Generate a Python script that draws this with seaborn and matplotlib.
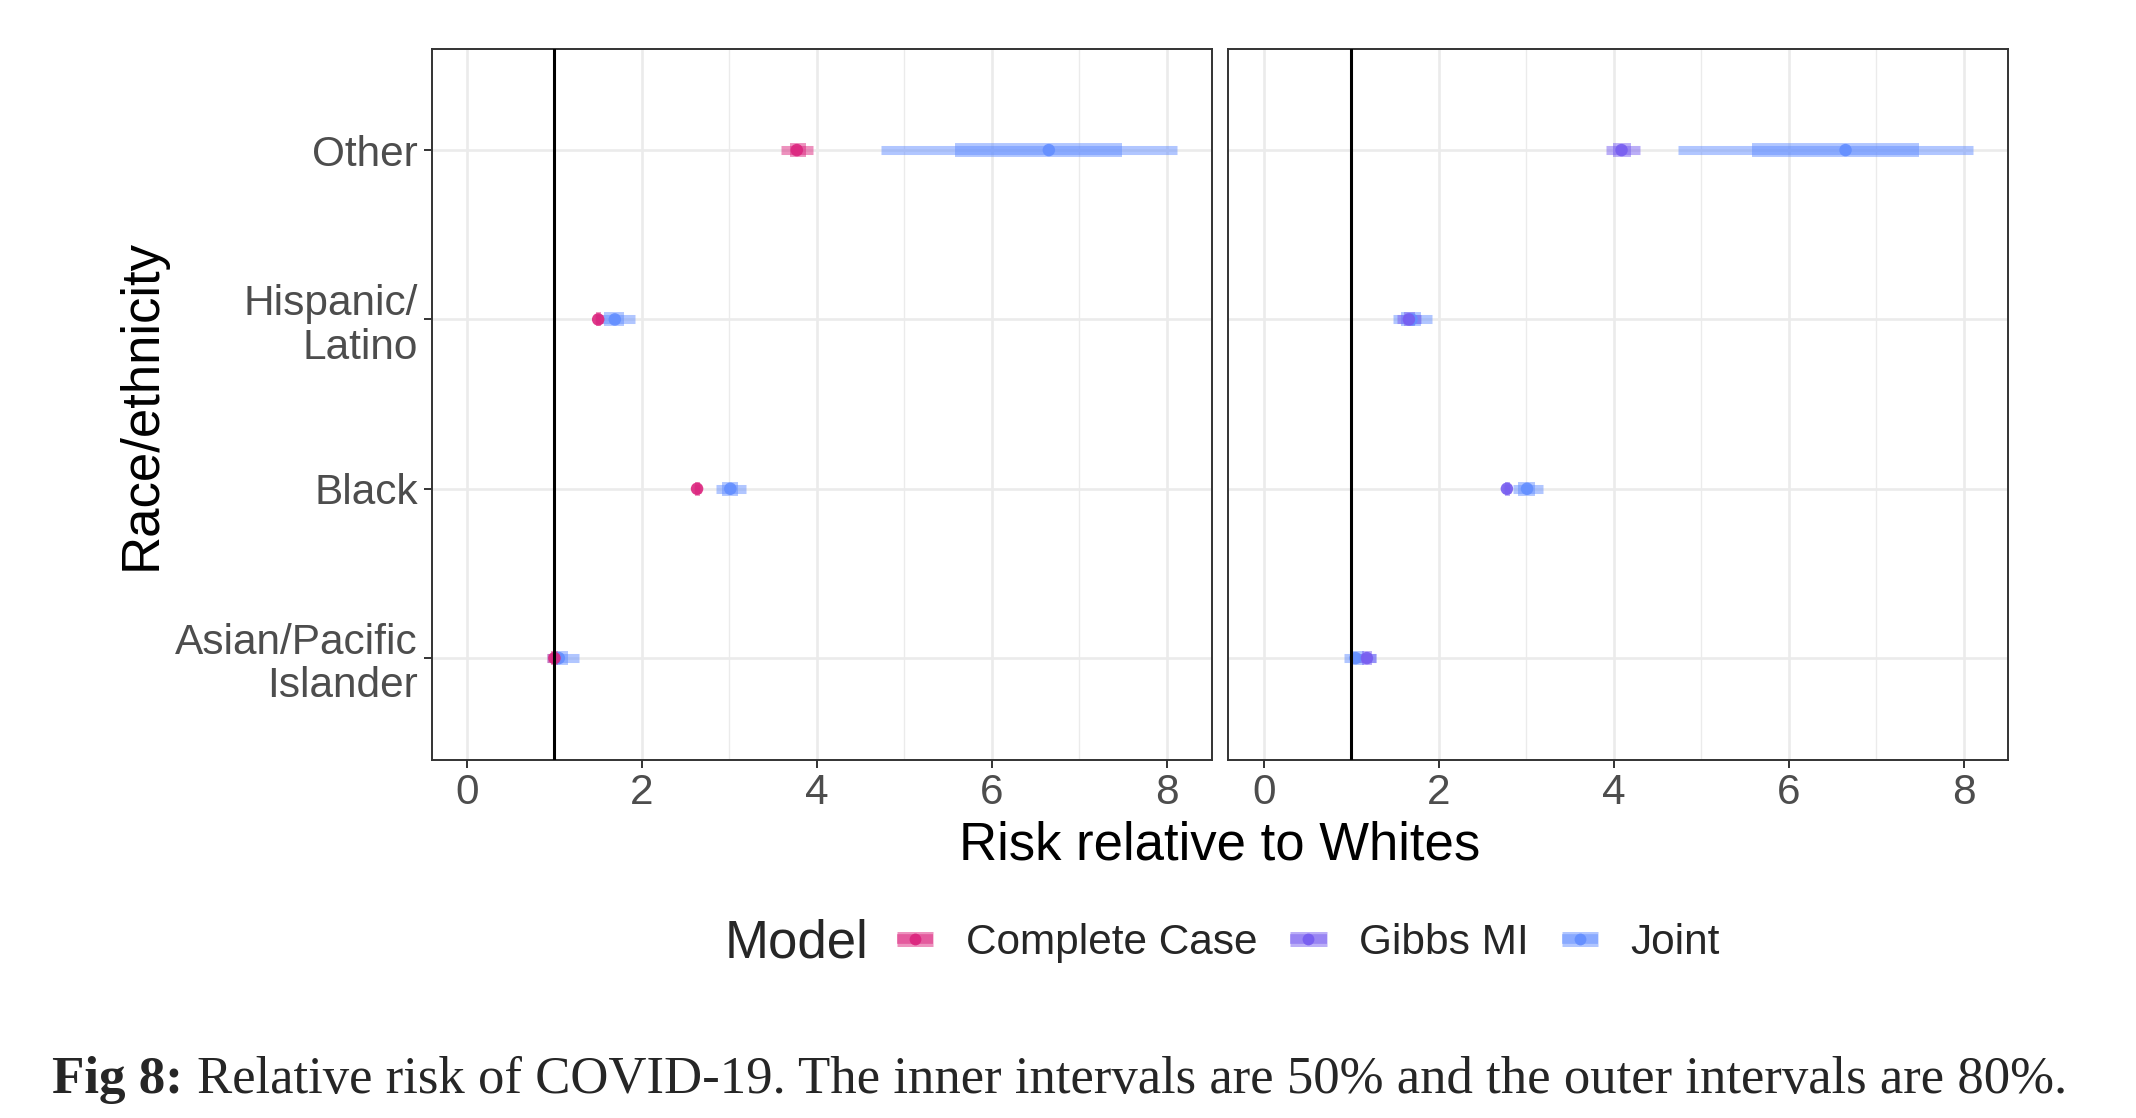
import matplotlib
matplotlib.use("Agg")
import matplotlib.pyplot as plt
from matplotlib.lines import Line2D
from matplotlib.ticker import MultipleLocator
import pandas as pd
import seaborn as sns

# values (relative risk, posterior median + 50% / 80% intervals)
categories = ["Other", "Hispanic/\nLatino", "Black", "Asian/Pacific\nIslander"]
models = ["Complete Case", "Gibbs MI", "Joint"]
palette = {"Complete Case": "#DC267F", "Gibbs MI": "#785EF0", "Joint": "#648FFF"}

cc_mid = [3.77, 1.50, 2.63, 1.00]
cc_lo50 = [3.69, 1.48, 2.61, 0.96]
cc_hi50 = [3.87, 1.53, 2.66, 1.04]
cc_lo80 = [3.59, 1.46, 2.59, 0.92]
cc_hi80 = [3.95, 1.55, 2.68, 1.08]

gibbs_mid = [4.09, 1.66, 2.78, 1.18]
gibbs_lo50 = [3.99, 1.60, 2.76, 1.12]
gibbs_hi50 = [4.20, 1.73, 2.81, 1.24]
gibbs_lo80 = [3.91, 1.52, 2.74, 1.08]
gibbs_hi80 = [4.30, 1.80, 2.83, 1.28]

joint_mid = [6.65, 1.69, 3.01, 1.05]
joint_lo50 = [5.58, 1.57, 2.91, 0.99]
joint_hi50 = [7.49, 1.80, 3.10, 1.15]
joint_lo80 = [4.73, 1.48, 2.85, 0.92]
joint_hi80 = [8.11, 1.92, 3.19, 1.28]


def model_frame(name, mid, lo50, hi50, lo80, hi80):
    return pd.DataFrame({
        "race": categories, "model": name, "mid": mid,
        "lo50": lo50, "hi50": hi50, "lo80": lo80, "hi80": hi80,
    })


cc = model_frame("Complete Case", cc_mid, cc_lo50, cc_hi50, cc_lo80, cc_hi80)
gibbs = model_frame("Gibbs MI", gibbs_mid, gibbs_lo50, gibbs_hi50, gibbs_lo80, gibbs_hi80)
joint = model_frame("Joint", joint_mid, joint_lo50, joint_hi50, joint_lo80, joint_hi80)

sns.set_theme(style="whitegrid")
plt.rcParams["font.family"] = ["Liberation Sans", "DejaVu Sans"]

W, H = 2136, 1118
fig = plt.figure(figsize=(W / 100, H / 100), dpi=100)
fig.patch.set_facecolor("white")

panel_w = 780.1 / W
panel_h = 711.2 / H
panel_b = 1 - 759.7 / H
ax1 = fig.add_axes([431.5 / W, panel_b, panel_w, panel_h])
ax2 = fig.add_axes([1228.2 / W, panel_b, panel_w, panel_h])

cat_pos = {c: i for i, c in enumerate(categories)}

for ax, df in [(ax1, pd.concat([joint, cc])), (ax2, pd.concat([joint, gibbs]))]:
    df = df.reset_index(drop=True)
    ypos = df["race"].map(cat_pos)
    for m in df["model"].unique():
        sel = df["model"] == m
        ax.hlines(ypos[sel], df.loc[sel, "lo80"], df.loc[sel, "hi80"],
                  color=palette[m], lw=6.5, alpha=0.5, zorder=2)
        ax.hlines(ypos[sel], df.loc[sel, "lo50"], df.loc[sel, "hi50"],
                  color=palette[m], lw=10, alpha=0.5, zorder=2)
    sns.stripplot(data=df, x="mid", y="race", hue="model", order=categories,
                  palette=palette, jitter=False, dodge=False, size=9,
                  linewidth=0, alpha=0.9, legend=False, zorder=3, ax=ax)
    ax.axvline(1, color="black", lw=2.2, zorder=4)

    ax.set_xlim(-0.405, 8.51)
    ax.set_ylim(3.6, -0.6)
    ax.set_xticks([0, 2, 4, 6, 8])
    ax.xaxis.set_minor_locator(MultipleLocator(1))
    ax.set_axisbelow(True)
    ax.grid(True, which="major", color="#EBEBEB", lw=1.9)
    ax.grid(True, which="minor", axis="x", color="#EBEBEB", lw=1.0)
    ax.set_xlabel("")
    ax.set_ylabel("")
    ax.set_facecolor("white")
    for s in ax.spines.values():
        s.set_visible(True)
        s.set_color("#333333")
        s.set_linewidth(1.4)
    ax.tick_params(axis="both", which="major", bottom=True, left=True,
                   length=5.8, width=1.4, color="#333333",
                   labelsize=30.5, labelcolor="#4D4D4D", pad=4)
    ax.tick_params(axis="x", which="minor", length=0)

for lab in ax1.get_yticklabels():
    lab.set_linespacing(1.12)
ax2.tick_params(axis="y", left=False, labelleft=False)

fig.text(1220 / W, 1 - 860 / H, "Risk relative to Whites", ha="center",
         va="baseline", fontsize=38, color="black")
fig.text(141.5 / W, 1 - 405 / H, "Race/ethnicity", rotation=90, ha="center",
         va="center", fontsize=38, color="black")

# legend: model title on the left, keys as interval + point
handles = []
for m in models:
    c = palette[m]
    handles.append((
        Line2D([], [], color=c, lw=10.8, alpha=0.5, solid_capstyle="butt"),
        Line2D([], [], color=c, lw=7.0, alpha=0.5, solid_capstyle="butt"),
        Line2D([], [], ls="none", marker="o", ms=8.5, mew=0, color=c, alpha=0.95),
    ))
fig.legend(handles, models, ncol=3, loc="center left",
           bbox_to_anchor=(897 / W, 1 - 943 / H), frameon=False,
           fontsize=30.5, handlelength=0.86, handletextpad=0.77,
           columnspacing=0.77, borderpad=0, borderaxespad=0)
fig.text(725 / W, 1 - 957 / H, "Model", ha="left", va="baseline", fontsize=38)

# caption
serif = ["Liberation Serif", "DejaVu Serif"]
cap_y = 1 - 1093 / H
t_bold = fig.text(52 / W, cap_y, "Fig 8:", fontsize=38.2, fontweight="bold",
                  family=serif, va="baseline")
fig.canvas.draw()
bb = t_bold.get_window_extent(fig.canvas.get_renderer())
fig.text((bb.x1 + 14) / W, cap_y,
         "Relative risk of COVID-19. The inner intervals are 50% and the outer intervals are 80%.",
         fontsize=38.0, family=serif, va="baseline")

fig.savefig("out.png", dpi=100, facecolor="white")
